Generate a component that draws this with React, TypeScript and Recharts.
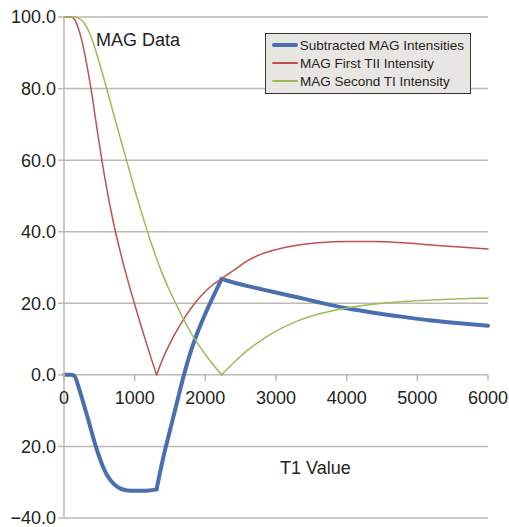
import React from 'react';
import { LineChart, Line, XAxis, YAxis, CartesianGrid, ReferenceDot, Legend } from 'recharts';

const t1Values = [0, 100, 150, 200, 250, 300, 350, 400, 450, 500, 600, 700, 800, 900, 1000, 1100, 1200, 1310, 1400, 1500, 1600, 1700, 1800, 1900, 2000, 2100, 2230, 2400, 2600, 2800, 3000, 3300, 3600, 4000, 4400, 4800, 5200, 5600, 6000];

const subtracted = [0, 0, -0.4, -3.0, -6.2, -9.6, -13.0, -16.6, -20.0, -23.0, -27.7, -30.4, -31.8, -32.3, -32.4, -32.4, -32.3, -32.0, -23.5, -15.5, -7.6, 0.2, 6.9, 12.4, 17.1, 21.4, 26.8, 25.8, 24.8, 23.9, 23.0, 21.7, 20.3, 18.6, 17.3, 16.2, 15.2, 14.4, 13.7];

const firstTI = [100, 100, 99.3, 97.0, 93.6, 89.0, 83.7, 77.8, 71.0, 64.5, 52.6, 42.5, 34.1, 26.6, 19.7, 13.1, 6.7, 0, 4.6, 8.8, 12.5, 15.8, 18.7, 21.2, 23.3, 25.1, 26.9, 29.2, 31.9, 33.8, 35.0, 36.2, 36.9, 37.3, 37.3, 36.9, 36.3, 35.7, 35.2];

const secondTI = [100, 100, 100, 99.7, 99.1, 97.9, 96.0, 93.5, 90.5, 87.2, 80.3, 73.0, 65.9, 58.9, 51.8, 45.2, 38.9, 32.5, 27.8, 23.3, 19.2, 15.2, 11.6, 8.5, 5.7, 3.1, 0, 3.4, 6.9, 9.8, 12.2, 15.0, 17.0, 18.7, 19.8, 20.5, 20.95, 21.25, 21.5];

const yTicks = [-40, -20, 0, 20, 40, 60, 80, 100];
const yTickLabels = ['\u221240.0', '20.0', '0.0', '20.0', '40.0', '60.0', '80.0', '100.0'];
const xTicks = [0, 1000, 2000, 3000, 4000, 5000, 6000];
const xTickLabels = ['0', '1000', '2000', '3000', '4000', '5000', '6000'];

const seriesNames = ['Subtracted MAG Intensities', 'MAG First TII Intensity', 'MAG Second TI Intensity'];
const seriesKeys = ['sub', 'first', 'second'];
const seriesColors = ['#4a6fb0', '#c0504d', '#9bbb59'];
const seriesWidths = [4, 1.5, 1.5];
// T1 values where a series has a sharp corner (zero crossing of a magnitude / peak of the difference)
const seriesKinks = [[1310, 2230], [1310], [2230]];

const data = t1Values.map((t, i) => ({ t, sub: subtracted[i], first: firstTI[i], second: secondTI[i] }));

const segmentsFor = (kinks: number[]) => {
  const bounds = [t1Values[0], ...kinks, t1Values[t1Values.length - 1]];
  const segs: typeof data[] = [];
  for (let i = 0; i < bounds.length - 1; i++) {
    segs.push(data.filter((d) => d.t >= bounds[i] && d.t <= bounds[i + 1]));
  }
  return segs;
};

const FONT = '"Liberation Sans", Arial, Helvetica, sans-serif';
const GRID = '#bfb8b1';
const TEXT = '#231f20';

const LegendBox = () => (
  <div
    style={{
      border: '1.5px solid #333',
      background: '#e8e6e3',
      padding: '2px 6px 3px 6px',
      fontFamily: FONT,
      fontSize: 13.5,
      color: TEXT,
      boxSizing: 'border-box',
      width: 206,
    }}
  >
    {seriesNames.map((n, i) => (
      <div key={n} style={{ display: 'flex', alignItems: 'center', height: 18, whiteSpace: 'nowrap' }}>
        <div style={{ width: 26, height: seriesWidths[i], background: seriesColors[i], marginRight: 2, borderRadius: 2 }} />
        <span>{n}</span>
      </div>
    ))}
  </div>
);

const makeTick = (label: string) => (props: any) => {
  const { cx, cy } = props;
  if (cx == null || cy == null) return <g />;
  return (
    <g>
      <line x1={cx} y1={cy} x2={cx} y2={cy + 6} stroke={GRID} strokeWidth={1.5} />
      <text x={cx} y={cy + 29} textAnchor="middle" fontSize={18} fontFamily={FONT} fill={TEXT}>
        {label}
      </text>
    </g>
  );
};

export default function App() {
  return (
    <div style={{ position: 'absolute', left: 0, top: 0, width: 509, height: 527, background: '#fff' }}>
      <LineChart width={509} height={527} data={data} margin={{ top: 17, right: 21, bottom: 9, left: 0 }}>
        <CartesianGrid horizontal vertical={false} stroke={GRID} strokeWidth={1.5} />
        <XAxis dataKey="t" type="number" domain={[0, 6000]} ticks={xTicks} hide allowDuplicatedCategory={false} />
        <YAxis
          type="number"
          domain={[-40, 100]}
          ticks={yTicks}
          interval={0}
          width={64}
          tickSize={6}
          axisLine={{ stroke: GRID, strokeWidth: 1.5 }}
          tickLine={{ stroke: GRID, strokeWidth: 1.5 }}
          tick={{ fontSize: 18, fill: TEXT, fontFamily: FONT }}
          tickFormatter={(v: number) => yTickLabels[yTicks.indexOf(v)] ?? String(v)}
        />
        {xTicks.map((xv, i) => (
          <ReferenceDot key={xv} x={xv} y={0} r={0} ifOverflow="visible" shape={makeTick(xTickLabels[i])} />
        ))}
        {seriesKeys.map((k, i) =>
          segmentsFor(seriesKinks[i]).map((seg, j) => (
            <Line
              key={k + j}
              data={seg}
              type="monotoneX"
              dataKey={k}
              name={seriesNames[i]}
              stroke={seriesColors[i]}
              strokeWidth={seriesWidths[i]}
              strokeLinejoin="round"
              strokeLinecap="round"
              dot={false}
              activeDot={false}
              legendType="none"
              isAnimationActive={false}
            />
          ))
        )}
        <Legend
          layout="vertical"
          align="center"
          verticalAlign="middle"
          content={() => <LegendBox />}
          wrapperStyle={{ position: 'absolute', left: 265, top: 33, width: 206 }}
        />
      </LineChart>
      <div style={{ position: 'absolute', left: 96, top: 31, fontFamily: FONT, fontSize: 18, lineHeight: '18px', color: TEXT, whiteSpace: 'nowrap' }}>
        MAG Data
      </div>
      <div style={{ position: 'absolute', left: 280, top: 459, fontFamily: FONT, fontSize: 18, lineHeight: '18px', color: TEXT, whiteSpace: 'nowrap' }}>
        T1 Value
      </div>
    </div>
  );
}
